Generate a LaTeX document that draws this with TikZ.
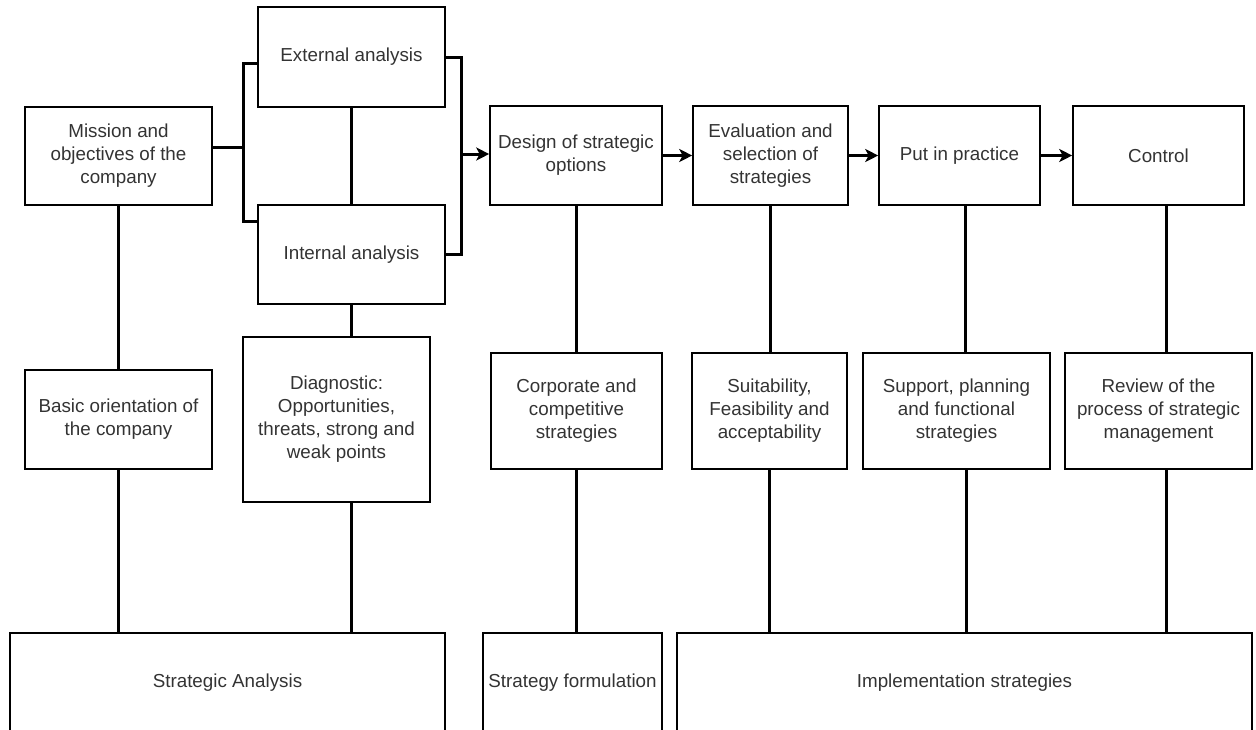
\documentclass[tikz,border=0pt]{standalone}
\usepackage{fontspec}
\setmainfont{Liberation Sans}
\usetikzlibrary{arrows.meta,calc}

\tikzset{
  box/.style={draw, line width=1.6pt, align=center, inner sep=0pt, text=black!80,
    font=\fontsize{18.8}{23}\selectfont},
  link/.style={line width=3pt},
  flow/.style={link, -{Stealth[length=13pt,width=13pt,inset=3.5pt]}}
}

\begin{document}
\begin{tikzpicture}[x=1pt,y=-1pt]
    \useasboundingbox (0,0) rectangle (1256,729);
    \clip (0,0) rectangle (1256,729);

    % Strategic analysis column
    \node[box, minimum width=187pt, minimum height=98pt] (mission) at (118.5,156) {Mission and\\objectives of the\\company};
    \node[box, minimum width=187pt, minimum height=100pt] (external) at (351.5,57) {External analysis};
    \node[box, minimum width=187pt, minimum height=99pt] (internal) at (351.5,254.5) {Internal analysis};
    \node[box, minimum width=187pt, minimum height=99pt] (basic) at (118.5,419.5) {Basic orientation of\\the company};
    \node[box, minimum width=187pt, minimum height=165pt] (diag) at (336.5,419.5) {Diagnostic:\\Opportunities,\\threats, strong and\\weak points};
    \node[box, minimum width=435pt, minimum height=100pt] (analysis) at (227.5,683) {Strategic Analysis};

    % Process steps (top row)
    \node[box, minimum width=172pt, minimum height=99pt] (design) at (576,155.5) {Design of strategic\\options};
    \node[box, minimum width=155pt, minimum height=99pt] (evaluation) at (770.5,155.5) {Evaluation and\\selection of\\strategies};
    \node[box, minimum width=161pt, minimum height=99pt] (practice) at (959.5,155.5) {Put in practice};
    \node[box, minimum width=171pt, minimum height=99pt] (control) at (1158.5,155.5) {Control};

    % Contents (middle row)
    \node[box, minimum width=171pt, minimum height=116pt] (corporate) at (576.5,411) {Corporate and\\competitive\\strategies};
    \node[box, minimum width=155pt, minimum height=116pt] (suitability) at (769.5,411) {Suitability,\\Feasibility and\\acceptability};
    \node[box, minimum width=187pt, minimum height=116pt] (support) at (956.5,411) {Support, planning\\and functional\\strategies};
    \node[box, minimum width=187pt, minimum height=116pt] (review) at (1158.5,411) {Review of the\\process of strategic\\management};

    % Phases (bottom row)
    \node[box, minimum width=179pt, minimum height=100pt] (formulation) at (572.5,683) {Strategy formulation};
    \node[box, minimum width=575pt, minimum height=100pt] (implementation) at (964.5,683) {Implementation strategies};

    % Brackets round the two analyses
    \coordinate (splitL) at (243,147);
    \coordinate (splitR) at (461,154);
    \draw[link] (mission.east |- splitL) -- (splitL);
    \draw[link] ($(external.west)+(0,6)$) -| (splitL) |- ($(internal.west)+(0,-33.5)$);
    \draw[link] (external.east) -| (splitR) |- (internal.east);
    \draw[flow] (splitR) -- (design.west |- splitR);

    % Flow of the process
    \draw[flow] (design.east) -- (evaluation.west);
    \draw[flow] (evaluation.east) -- (practice.west);
    \draw[flow] (practice.east) -- (control.west);

    % Vertical links
    \draw[link] (mission.south) -- (basic.north);
    \draw[link] (basic.south) -- (basic.south |- analysis.north);
    \draw[link] (external.south) -- (internal.north);
    \draw[link] (internal.south) -- (internal.south |- diag.north);
    \draw[link] (diag.south -| internal.south) -- (internal.south |- analysis.north);
    \draw[link] (design.south) -- (corporate.north -| design.south);
    \draw[link] (corporate.south -| design.south) -- (design.south |- formulation.north);
    \draw[link] (evaluation.south) -- (evaluation.south |- suitability.north);
    \draw[link] (suitability.south) -- (suitability.south |- implementation.north);
    \draw[link] ($(practice.south)+(5.5,0)$) -- ($(practice.south |- support.north)+(5.5,0)$);
    \draw[link] ($(support.south)+(10,0)$) -- ($(support.south |- implementation.north)+(10,0)$);
    \draw[link] ($(control.south)+(7.5,0)$) -- ($(control.south |- review.north)+(7.5,0)$);
    \draw[link] ($(review.south)+(7.5,0)$) -- ($(review.south |- implementation.north)+(7.5,0)$);
\end{tikzpicture}
\end{document}
